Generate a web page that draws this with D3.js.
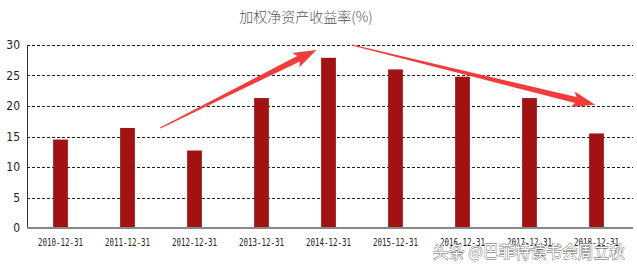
<!DOCTYPE html>
<html>
<head>
<meta charset="utf-8">
<script src="https://cdn.jsdelivr.net/npm/d3@7"></script>
<style>
  body { margin: 0; background: #fff; }
</style>
</head>
<body>
<div id="chart"></div>
<script>
// chart data
var categories = ["2010-12-31", "2011-12-31", "2012-12-31", "2013-12-31", "2014-12-31",
                  "2015-12-31", "2016-12-31", "2017-12-31", "2018-12-31"];
var roe = [14.5, 16.4, 12.7, 21.3, 27.9, 26.0, 24.8, 21.3, 15.5];
var yTicks = [0, 5, 10, 15, 20, 25, 30];
var titleText = "加权净资产收益率(%)";
var watermark = "头条 @巴菲特读书会周立秋";
// annotation arrows, in (category index, value) units
var arrows = [
  { from: [1.49, 16.4], to: [3.82, 29.2] },
  { from: [4.35, 30.0], to: [7.98, 20.2] }
];

var width = 637, height = 268;
var margin = {top: 45, right: 7, bottom: 40, left: 27};

var svg = d3.select("#chart")
  .append("svg")
  .attr("width", width)
  .attr("height", height);

var g = svg.append("g")
  .attr("transform", "translate(" + margin.left + "," + margin.top + ")");

var innerW = 603;
var innerH = height - margin.top - margin.bottom;

var xScale = d3.scaleBand()
  .domain(categories)
  .range([0, innerW])
  .paddingInner(0.78)
  .paddingOuter(0.39);

var yScale = d3.scaleLinear()
  .domain([0, 30])
  .range([innerH, 0]);

// position for fractional category index
var step = xScale.step();
function xIdx(i) { return xScale(categories[0]) + xScale.bandwidth() / 2 + i * step; }

// gridlines
g.selectAll(".grid")
  .data(yTicks.filter(function (d) { return d > 0; }))
  .enter()
  .append("line")
  .attr("x1", 0)
  .attr("x2", innerW + 3)
  .attr("y1", function (d) { return Math.round(yScale(d)) + 0.5; })
  .attr("y2", function (d) { return Math.round(yScale(d)) + 0.5; })
  .style("stroke", "#222")
  .style("stroke-width", 1)
  .style("stroke-dasharray", "3,2");

// bars
g.selectAll(".bar")
  .data(roe)
  .enter()
  .append("rect")
  .attr("x", function (d, i) { return xScale(categories[i]); })
  .attr("y", function (d) { return yScale(d); })
  .attr("width", xScale.bandwidth())
  .attr("height", function (d) { return innerH - yScale(d); })
  .style("fill", "#a11213");

// y axis
var yAxis = d3.axisLeft(yScale).tickValues(yTicks).tickSize(0).tickPadding(7);
var ya = g.append("g").call(yAxis);
ya.select(".domain").style("stroke", "#333");
ya.selectAll("text")
  .style("font-family", "'Liberation Sans Narrow', 'DejaVu Sans Condensed', sans-serif")
  .style("font-size", "12px")
  .style("fill", "#222");

// x axis
var xAxis = d3.axisBottom(xScale).tickSize(0).tickPadding(10);
var xa = g.append("g")
  .attr("transform", "translate(0," + innerH + ")")
  .call(xAxis);
xa.select(".domain")
  .attr("d", "M0,0H" + (innerW + 3))
  .style("stroke", "#888")
  .style("stroke-width", 2);
xa.selectAll("text")
  .style("font-family", "'DejaVu Sans Mono', monospace")
  .style("font-size", "11px")
  .style("fill", "#222")
  .attr("textLength", 45)
  .attr("lengthAdjust", "spacingAndGlyphs");

// title
svg.append("text")
  .attr("x", 306)
  .attr("y", 22)
  .attr("text-anchor", "middle")
  .style("font-family", "'Noto Sans CJK SC', sans-serif")
  .style("font-size", "14px")
  .style("font-weight", 300)
  .style("fill", "#555")
  .text(titleText);

// arrows
function arrowPath(a) {
  var x0 = margin.left + xIdx(a.from[0]), y0 = margin.top + yScale(a.from[1]);
  var x1 = margin.left + xIdx(a.to[0]), y1 = margin.top + yScale(a.to[1]);
  var dx = x1 - x0, dy = y1 - y0, len = Math.sqrt(dx * dx + dy * dy);
  var ux = dx / len, uy = dy / len, nx = -uy, ny = ux;
  var headL = 20, headW = 8, w0 = 0.6, w1 = 3;
  var bx = x1 - ux * headL, by = y1 - uy * headL;
  var pts = [
    [x0 + nx * w0, y0 + ny * w0],
    [bx + nx * w1, by + ny * w1],
    [bx + nx * headW - ux * 3, by + ny * headW - uy * 3],
    [x1, y1],
    [bx - nx * headW - ux * 3, by - ny * headW - uy * 3],
    [bx - nx * w1, by - ny * w1],
    [x0 - nx * w0, y0 - ny * w0]
  ];
  return "M" + pts.map(function (p) { return p[0].toFixed(1) + "," + p[1].toFixed(1); }).join("L") + "Z";
}

svg.selectAll(".arrow")
  .data(arrows)
  .enter()
  .append("path")
  .attr("d", arrowPath)
  .style("fill", "#f23b3b");

// watermark
svg.append("text")
  .attr("x", 433)
  .attr("y", 258)
  .attr("textLength", 192)
  .attr("lengthAdjust", "spacingAndGlyphs")
  .style("font-family", "'Noto Sans CJK SC', sans-serif")
  .style("font-size", "17px")
  .style("fill", "#fff")
  .style("stroke", "#555")
  .style("stroke-width", 0.8)
  .style("paint-order", "stroke")
  .text(watermark);
</script>
</body>
</html>
